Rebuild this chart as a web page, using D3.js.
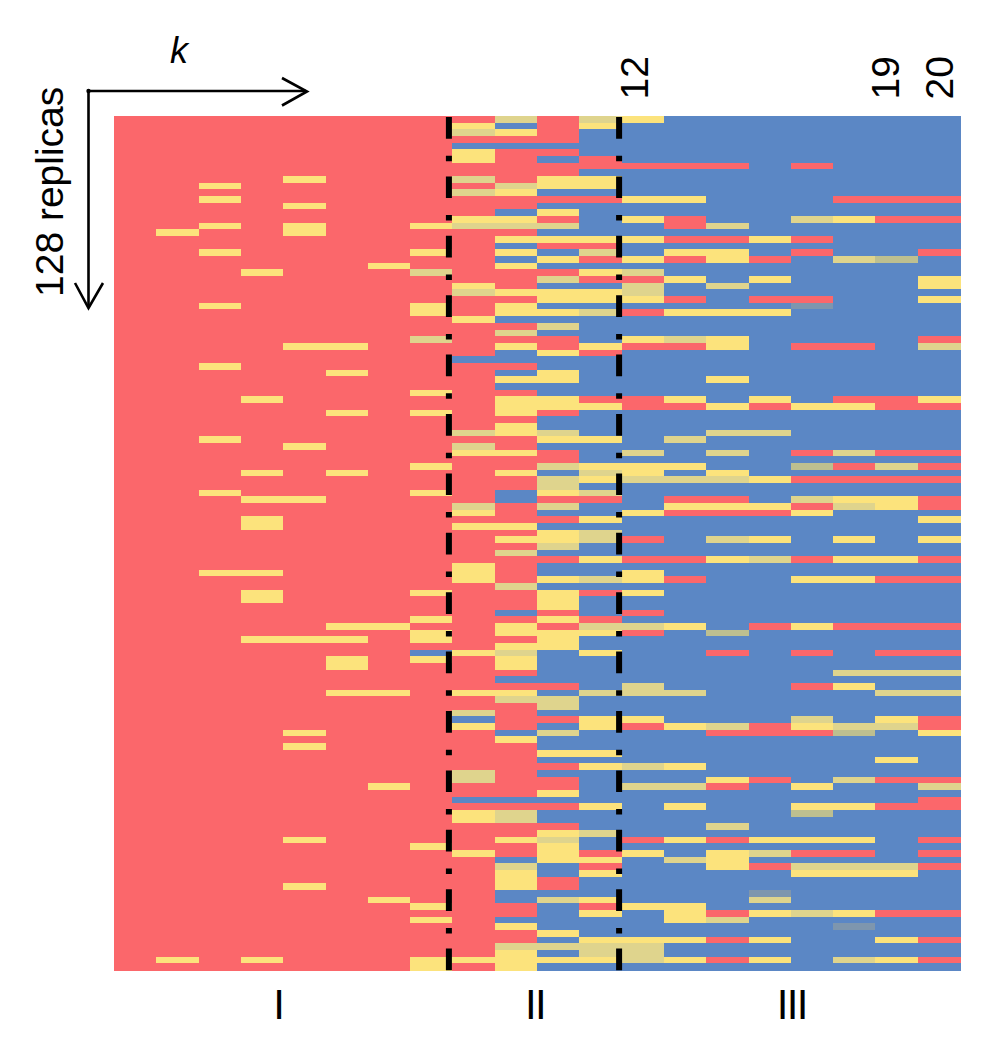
<!DOCTYPE html>
<html><head><meta charset="utf-8">
<script src="https://cdn.jsdelivr.net/npm/d3@7/dist/d3.min.js"></script>
<style>html,body{margin:0;padding:0;background:#fff}svg{display:block}text{font-family:"Liberation Sans",Arial,sans-serif;fill:#000}</style>
</head><body><svg id="c" width="992" height="1050"></svg>
<script>
// Columns k = 1..20, rows = 128 replicas. Codes: R red, B blue, Y yellow, K khaki, G grey-khaki, S slate.
const columns = d3.range(1, 21);
const replicas = d3.range(128);
// Non-red cells in the first eight columns: [replica, column, code]
const leftCells = [
[9,4,'Y'],[10,2,'Y'],[12,2,'Y'],[13,4,'Y'],[16,2,'Y'],[16,4,'Y'],[16,7,'Y'],[17,1,'Y'],[17,4,'Y'],[20,2,'Y'],[20,7,'Y'],
[22,6,'Y'],[23,3,'Y'],[23,7,'K'],[28,2,'Y'],[28,7,'Y'],[29,7,'Y'],[33,7,'K'],[34,4,'Y'],[34,5,'Y'],[37,2,'Y'],[38,5,'Y'],
[41,7,'Y'],[42,3,'Y'],[44,5,'Y'],[44,7,'Y'],[48,2,'Y'],[49,4,'Y'],[52,7,'Y'],[53,3,'Y'],[53,5,'Y'],[56,2,'Y'],[56,7,'Y'],
[57,3,'Y'],[57,4,'Y'],[60,3,'Y'],[61,3,'Y'],[68,2,'Y'],[68,3,'Y'],[71,3,'Y'],[71,7,'Y'],[72,3,'Y'],[75,7,'Y'],[76,5,'Y'],
[76,6,'Y'],[77,7,'Y'],[78,3,'Y'],[78,4,'Y'],[78,5,'Y'],[78,7,'Y'],[80,7,'B'],[81,5,'Y'],[81,7,'Y'],[82,5,'Y'],[86,5,'Y'],
[86,6,'Y'],[92,4,'Y'],[94,4,'Y'],[100,6,'Y'],[108,4,'Y'],[109,7,'Y'],[115,4,'Y'],[117,6,'Y'],[118,7,'Y'],[120,7,'Y'],
[126,1,'Y'],[126,3,'Y'],[126,7,'Y'],[127,7,'Y']];
// Columns 9..20, one string per replica
const rightRows = [
"RKRKYBBBBBBB","YBRYBBBBBBBB","KYRBBBBBBBBB","RRRBBBBBBBBB","BBBBBBBBBBBB","YRRBBBBBBBBB","YRBRBBBBBBBB","RRRRRRRBRBBB",
"RRRBBBBBBBBB","KRYYBBBBBBBB","RKYYBBBBBBBB","KYBBBBBBBBBB","RRRRYYBBBRRR","RRBBBBBBBBBB","RBYBBBBBBBBB","YYRBYRBBKYRR",
"KKKBBRKBBBBB","RRBBBBBBBBBB","RYYYYRRYRBBB","RBRRBBBBBBBB","RYBKBYYBRBBR","RBYRYRYRBKGB","RYBBBBBBBBBB","RRRYKBBBBBBB",
"RRKRRYBYBBBY","YRBBKBKBBBBY","KYYYKBBBBBBB","RRYYYRBRRBBY","RYBBBBBBSBBB","RYYKRYYYBBBB","YBBBBBBBBBBB","RRKBBBBBBBBB",
"RKBBBBBBBBBB","RRRBYKYBBBBR","RYRYRRYBRRBK","RBYRBBBBBBBB","BBBBBBBBBBBB","RRBBBBBBBBBB","RBYBBBBBBBBB","RYYBBBYBBBBB",
"RBBBBBBBBBBB","RRBBBBBBBBBB","RYYRRYBYBRRY","RYYYRRYRYYRR","RYRBBBBBBBBB","RRBBBBBBBBBB","RYBBBBBBBBBB","KYKBBBKKBBBB",
"RRYYBKBBBBBB","KRBBBBBBBBBB","YYRBKBKBRKRR","RRRBBBBBBBBB","RRKYYYBBGRKR","RYBKYBYBBBBB","RRKYKKKYRRRR","RRKBBBBBBBBB",
"RBYKBBBBBBBB","RBRRBRRBKYYR","KRKBBYYYRKYR","YRBBYRRRYBBB","RRRYBBBBBBBY","YYBBBBBBBBBB","RRYKBBBBBBBB","RYYKRBKYBYBY",
"RRKBBBBBBBBB","RKBBBBBBBBBB","RRRYRRYKRYYR","YRBBBBBBBBBB","YRBBYBBBBBBB","YRYKYRBBYYRR","RKBBBBBBBBBB","RRYRYBBBBBBB",
"RRYBBBBBBBBB","RRYBBBBBBBBB","RBRBRBBBBBBB","RRYRBBBBBBBB","RYRKKYBRYRRR","RYYYRBGBBBBB","RRYBBBBBBBBB","RYYBBBBBBBBB",
"YKBYBBRBRBRR","RYBBBBBBBBBB","RYBBBBBBBBBB","RRBBBBBBBKKK","RBBBBBBBBBBB","RRRBKBBBRYBB","YYBKKKBBBBKK","RKKBBBBBBBBB",
"RRKBBBBBBBBB","KRBBBBBBBBBB","BRRYYBBBKBYR","YRBYRYKRYKKR","RBKBBBRRRGBY","RYBBBBBBBBBB","RRBBBBBBBBBB","RRYYBBBBBBBB",
"RRBBBBBBBBYB","RRRYKYBBBBBB","KRBBBBBBBBBB","KRRBBBYRBKRR","RRRBKKRBYBBK","RRYBBBBBBBBB","BBBBBBBBBBBR","RRRYBYBBYYRR",
"YKBBBBBBGBBB","YKBBBBBBBBBB","RRRBBBKBBBBB","RRYKBBBBBBBB","RYKBRYRYYYBR","RRYBBBBBBBBB","YRYRYBYKRRBR","RBYYBKYBBBBB",
"RKBRBBYRKKKR","RYBYBBBBYYYB","RYRBBBBBBBBB","RYRBBBBBBBBB","RBBBBBBSBBBB","RBKYBBBKBBBB","RRBRYYBBBBBB","RRBYBYRYKYRR",
"RBBBBYKBBBBB","RYBBBBBBBSBB","RRYBBBBBBBBB","RRBYYYRYBBYR","RKKKKBBBBBBB","RYBKKBBBBBBB","YYYYKYRYBKYR","RYBBBBBBBBBB"];
const stateCodes = ['R','B','Y','K','G','S'];
const stateColors = ['#FB676B','#5B87C5','#FCE37C','#DFD48D','#BDBF90','#7E96AE'];
const kTicks = [12,19,20];
const kTickNudge = {12:33.5,19:-12,20:0};
const regions = ['I','II','III'];
const regionSpans = [[1,8],[9,12],[13,20]];
const regionNudge = [-5,-2,1];
const dividers = [8,12];

const svg = d3.select('#c');
const x = d3.scaleBand().domain(columns).range([114,960]);
const y = d3.scaleBand().domain(replicas).range([116,970]);
const color = d3.scaleOrdinal().domain(stateCodes).range(stateColors);

const cells = [];
const leftMap = new Map(leftCells.map(d => [d[0]+'-'+d[1], d[2]]));
replicas.forEach(r => columns.forEach((k,i) => {
  const code = i < 8 ? (leftMap.get(r+'-'+i) || 'R') : rightRows[r][i-8];
  cells.push({r,k,code});
}));
svg.append('g').attr('shape-rendering','crispEdges').selectAll('rect').data(cells).join('rect')
  .attr('x',d=>x(d.k)).attr('y',d=>y(d.r)).attr('width',x.bandwidth()+0.5).attr('height',y.bandwidth()+0.5)
  .attr('fill',d=>color(d.code));

// dash-dot dividers
svg.append('g').selectAll('line').data(dividers).join('line')
  .attr('x1',(d,i)=>x(d)+x.bandwidth()-(i?2.5:3.5)).attr('x2',(d,i)=>x(d)+x.bandwidth()-(i?2.5:3.5))
  .attr('y1',117).attr('y2',971)
  .attr('stroke','#000').attr('stroke-width',6).attr('stroke-dasharray','21.7 17 5.5 15.2');

// axes arrows
const axisPath = svg.append('g').attr('fill','none').attr('stroke','#000').attr('stroke-width',2.6);
const line = d3.line();
axisPath.append('path').attr('d',line([[88.5,91],[306,91]]));
axisPath.append('path').attr('d',line([[282,78],[307,91.5],[282,105.5]]));
axisPath.append('path').attr('d',line([[88.5,91],[88.5,307]]));
axisPath.append('path').attr('d',line([[75,283],[88.5,308],[103,283]]));
svg.append('circle').attr('cx',88.5).attr('cy',91).attr('r',2.2).attr('fill','#000');

svg.append('text').attr('x',179).attr('y',63).attr('text-anchor','middle')
  .attr('font-size',36).attr('font-style','italic').text('k');
svg.append('text').attr('transform','translate(63,297) rotate(-90)').attr('font-size',39).text('128 replicas');

svg.append('g').selectAll('text').data(kTicks).join('text')
  .attr('transform',d=>`translate(${x(d)+x.bandwidth()/2+kTickNudge[d]+14},99.5) rotate(-90)`)
  .attr('font-size',39).text(d=>d);

svg.append('g').selectAll('text').data(regions).join('text')
  .attr('x',(d,i)=>(x(regionSpans[i][0])+x(regionSpans[i][1])+x.bandwidth())/2+regionNudge[i])
  .attr('y',1019).attr('text-anchor','middle').attr('font-size',42).attr('letter-spacing',-1.7).text(d=>d);
</script></body></html>
